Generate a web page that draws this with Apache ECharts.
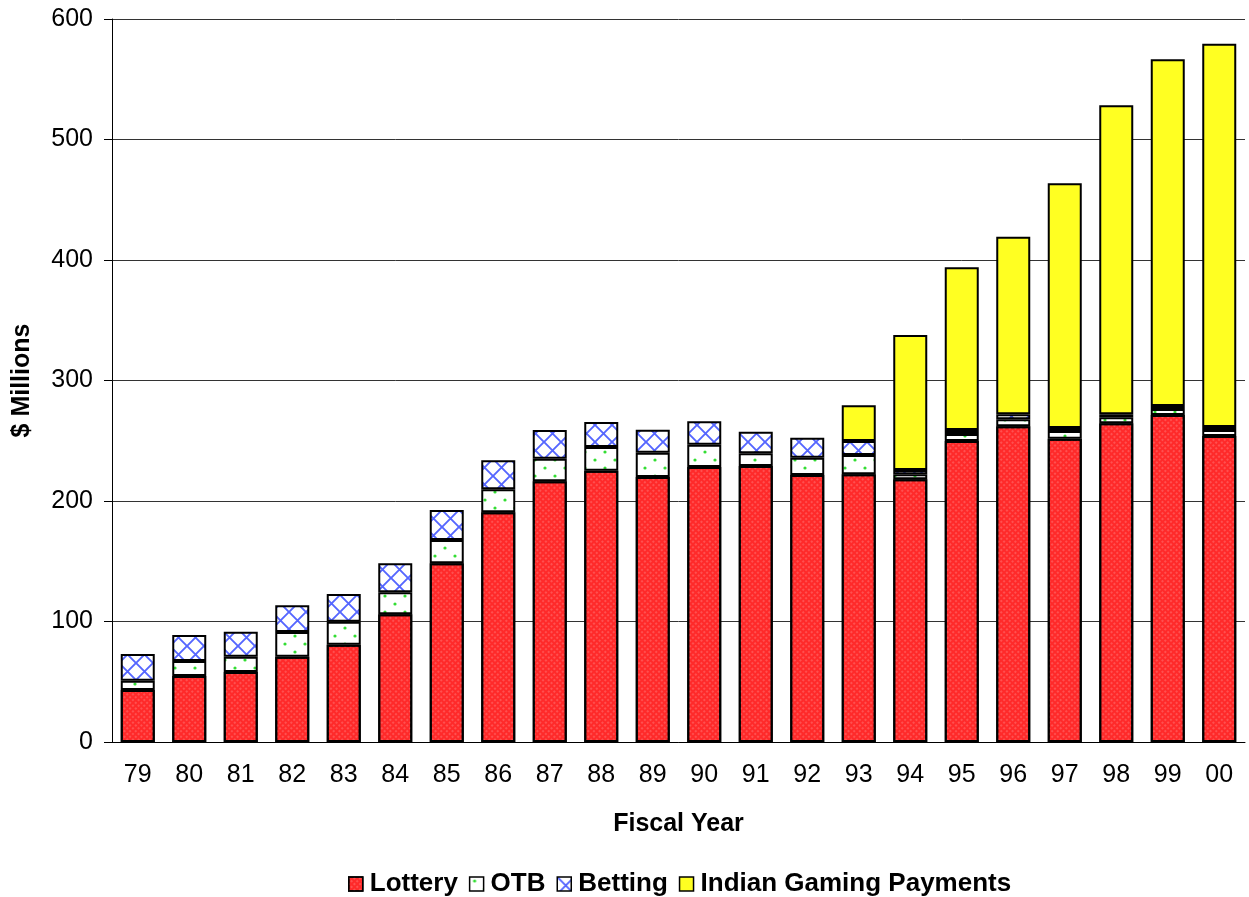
<!DOCTYPE html>
<html>
<head>
<meta charset="utf-8">
<script src="https://cdn.jsdelivr.net/npm/echarts@6/dist/echarts.min.js"></script>
<style>
html,body{margin:0;padding:0;background:#fff;}
#chart{width:1249px;height:897px;}
</style>
</head>
<body>
<div id="chart"></div>
<script>
const years = ['79','80','81','82','83','84','85','86','87','88','89','90','91','92','93','94','95','96','97','98','99','00'];
const lottery = [43.2,54.8,58.1,70.8,80.8,106,148.3,190.6,216.3,225.2,219.9,228.2,229,221.6,222.2,218,249.8,262,251.7,264.5,271.4,254];
const otb = [7.7,12.4,12.7,20.5,19,18.2,19.3,19.1,18.8,19.6,20.2,18.5,10.6,14.3,16,4.2,5.8,5.8,6.4,5,4.9,4.9];
const betting = [22.1,21.6,20.7,22.1,23,24.1,24.9,24.1,23.8,20.8,19.1,19.4,17.9,16.6,11.6,3.5,3.3,4.2,2.5,2.5,2.5,2.5];
const indian = [null,null,null,null,null,null,null,null,null,null,null,null,null,null,29.6,112,135,147.3,203,256.4,287.7,318];
const yTicks = [0,100,200,300,400,500,600];

function makePattern(w, h, draw) {
  const c = document.createElement('canvas');
  c.width = w; c.height = h;
  const ctx = c.getContext('2d');
  draw(ctx);
  return { image: c, repeat: 'repeat' };
}
const otbPat = makePattern(20, 16, ctx => {
  ctx.fillStyle = '#ffffff'; ctx.fillRect(0,0,20,16);
  ctx.fillStyle = '#33dd33';
  ctx.beginPath(); ctx.arc(5,4,1.6,0,Math.PI*2); ctx.fill();
  ctx.beginPath(); ctx.arc(15,12,1.6,0,Math.PI*2); ctx.fill();
});
const betPat = makePattern(17, 17, ctx => {
  ctx.fillStyle = '#ffffff'; ctx.fillRect(0,0,17,17);
  ctx.strokeStyle = '#5566ff'; ctx.lineWidth = 1.9;
  ctx.beginPath();
  ctx.moveTo(0,0); ctx.lineTo(17,17);
  ctx.moveTo(17,0); ctx.lineTo(0,17);
  ctx.stroke();
});
const lotteryDecal = {
  symbol: 'rect', symbolSize: 0.55, color: 'rgba(255,205,205,0.85)',
  dashArrayX: [2, 2], dashArrayY: [2, 2], rotation: Math.PI / 4
};

const chart = echarts.init(document.getElementById('chart'), null, {renderer:'canvas'});
const font = "'Liberation Sans', Arial, sans-serif";
function mk(name, data, color, decal) {
  const itemStyle = { color, borderColor: '#000', borderWidth: 2 };
  if (decal) itemStyle.decal = decal;
  return { name, type: 'bar', stack: 'total', data, barWidth: 34,
    itemStyle, emphasis: { disabled: true } };
}
chart.setOption({
  animation: false,
  backgroundColor: '#fff',
  textStyle: { fontFamily: font, color: '#000' },
  grid: { left: 112, right: 4, top: 19, bottom: 155, containLabel: false, outerBoundsMode: 'none' },
  xAxis: {
    type: 'category', data: years,
    name: 'Fiscal Year', nameLocation: 'middle', nameGap: 70,
    nameTextStyle: { fontSize: 25, fontWeight: 'bold', fontFamily: font, color: '#000' },
    axisLine: { lineStyle: { color: '#000', width: 1 } },
    axisTick: { length: 8, lineStyle: { color: '#000' } },
    axisLabel: { fontSize: 25, color: '#000', margin: 21, fontFamily: font }
  },
  yAxis: {
    type: 'value', min: yTicks[0], max: yTicks[yTicks.length-1], interval: 100,
    name: '$ Millions', nameLocation: 'middle', nameGap: 77, nameRotate: 90,
    nameTextStyle: { fontSize: 25, fontWeight: 'bold', fontFamily: font, color: '#000' },
    axisLine: { show: true, lineStyle: { color: '#000', width: 1 } },
    axisTick: { show: true, length: 8, lineStyle: { color: '#000' } },
    axisLabel: { fontSize: 25, color: '#000', margin: 19, fontFamily: font },
    splitLine: { show: true, lineStyle: { color: '#333', width: 1 } }
  },
  legend: {
    left: 343, top: 866, itemWidth: 14, itemHeight: 14, itemGap: 11,
    icon: 'rect',
    textStyle: { fontSize: 26, fontWeight: 'bold', fontFamily: font, color: '#000', padding: [0,0,0,2] },
    itemStyle: { borderColor: '#000', borderWidth: 1.5 },
    data: ['Lottery','OTB','Betting','Indian Gaming Payments']
  },
  series: [
    mk('Lottery', lottery, '#ff2a2a', lotteryDecal),
    mk('OTB', otb, otbPat),
    mk('Betting', betting, betPat),
    mk('Indian Gaming Payments', indian, '#ffff22')
  ]
});
</script>
</body>
</html>
